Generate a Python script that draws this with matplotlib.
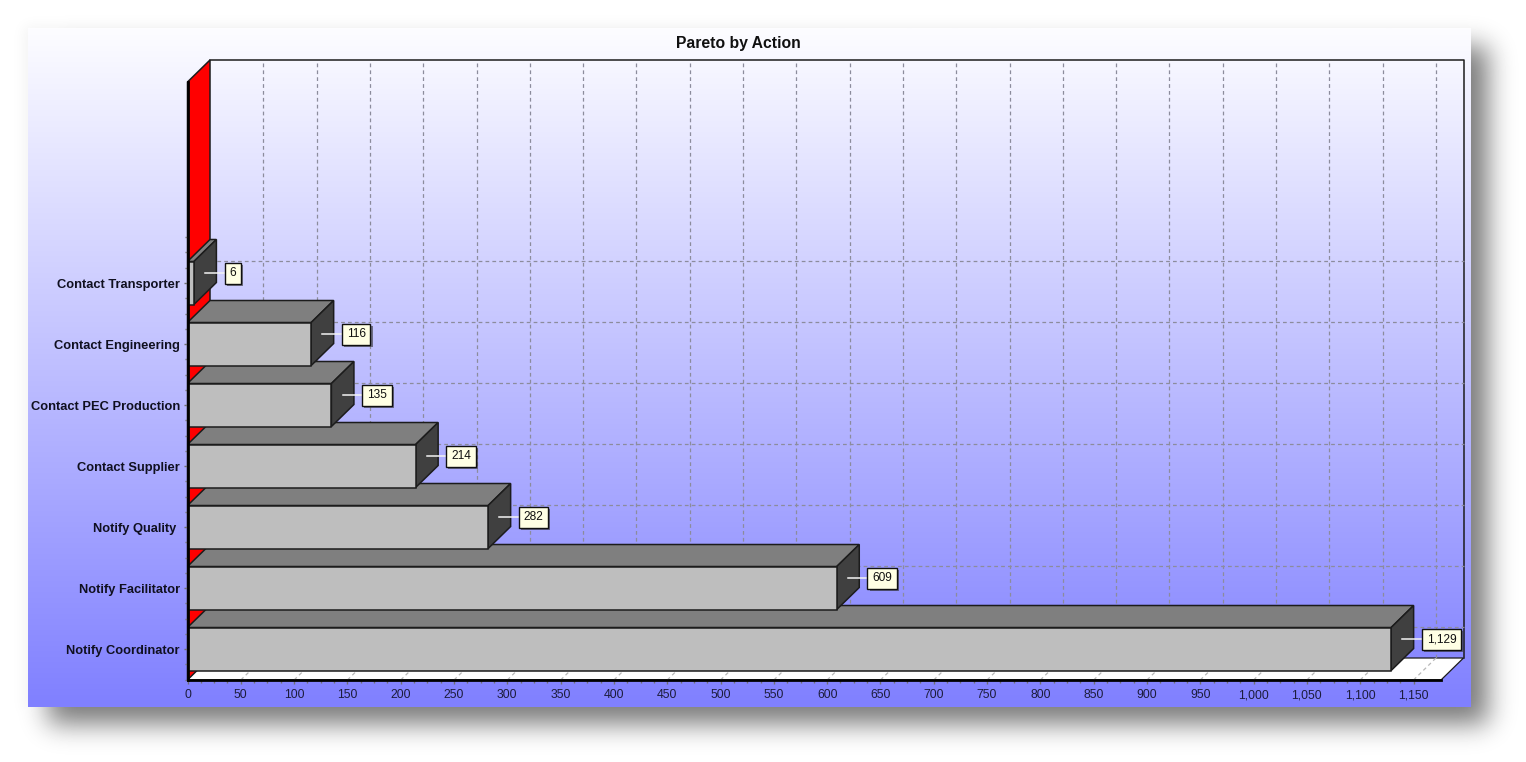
import numpy as np
import matplotlib
matplotlib.use("Agg")
import matplotlib.pyplot as plt
import matplotlib.patheffects as pe
from matplotlib.patches import Polygon
from matplotlib.transforms import offset_copy

plt.rcParams['font.family'] = ['Liberation Sans', 'DejaVu Sans']

actions = ["Notify Coordinator", "Notify Facilitator", "Notify Quality ", "Contact Supplier",
           "Contact PEC Production", "Contact Engineering", "Contact Transporter"]
counts = [1129, 609, 282, 214, 135, 116, 6]
x_ticks = list(range(0, 1151, 50))

W, H = 1526, 762
fig = plt.figure(figsize=(W / 100, H / 100), dpi=100, facecolor='white')


def soft_edge(n, a, b, sigma):
    t = np.arange(-3 * sigma, 3 * sigma + 1)
    k = np.exp(-t ** 2 / (2.0 * sigma ** 2))
    r = np.zeros(n)
    r[a:b] = 1
    return np.convolve(r, k / k.sum(), mode='same')


# page background: drop shadow then the gradient panel
bg = fig.add_axes([0, 0, 1, 1])
bg.set_xlim(0, W)
bg.set_ylim(H, 0)
bg.axis('off')
shadow = 0.52 * np.outer(soft_edge(H, 46, 724, 13), soft_edge(W, 48, 1488, 13))
halo = 0.05 * np.outer(soft_edge(H, 26, 712, 7), soft_edge(W, 24, 1478, 7))
shade = 1 - np.maximum(shadow, halo)
bg.imshow(shade, cmap='gray', vmin=0, vmax=1, extent=(0, W, H, 0), aspect='auto', zorder=0)
grad = np.linspace(0, 1, 256)[:, None, None] * np.array([-125, -125, 0]) / 255 + np.array([253, 253, 255]) / 255
bg.imshow(grad, extent=(28, 1471, 707, 28), aspect='auto', zorder=1)
bg.set_xlim(0, W)
bg.set_ylim(H, 0)

fig.text(738 / W, 1 - 43.5 / H, "Pareto by Action", fontsize=11.3, fontweight='bold', ha='center', va='center',
         color='#101010')

# front plane of the 3d box
L, R, T, B = 187.5, 1441, 82, 680
ax = fig.add_axes([L / W, 1 - B / H, (R - L) / W, (B - T) / H])
ax.patch.set_alpha(0)
ax.set_xlim(0, (R - L) / 1.0661)
ax.set_ylim(-0.508, 9.295)
for s in ax.spines.values():
    s.set_visible(False)

xmax = ax.get_xlim()[1]
ylo, yhi = ax.get_ylim()
depth_x = 22.5 / 1.0661
depth_y = 22.0 / 61
bar_half = 21.5 / 61
edge = '#1c1c1c'
grid_ls = (0, (3, 2.5))

# back wall, side wall, floor
ax.add_patch(Polygon([(0, ylo), (depth_x, ylo + depth_y), (depth_x, yhi + depth_y), (0, yhi)],
                     fc='#ff0000', ec=edge, lw=1.1, zorder=1, clip_on=False))
ax.add_patch(Polygon([(0, ylo), (xmax, ylo), (xmax + depth_x, ylo + depth_y), (depth_x, ylo + depth_y)],
                     fc='white', ec=edge, lw=0.9, zorder=1, clip_on=False))
ax.plot([depth_x, xmax + depth_x, xmax + depth_x], [yhi + depth_y, yhi + depth_y, ylo + depth_y],
        color=edge, lw=1.1, zorder=1, clip_on=False)

for v in x_ticks[1:]:
    ax.plot([v + depth_x] * 2, [ylo + depth_y, yhi + depth_y], color='#8c8c9c', lw=0.9, ls=grid_ls,
            zorder=1.5, clip_on=False)
    ax.plot([v, v + depth_x], [ylo, ylo + depth_y], color='#b8b8b8', lw=0.9, ls=grid_ls, zorder=1.5,
            clip_on=False)
for i in range(len(actions)):
    ax.plot([depth_x, xmax + depth_x], [i + depth_y] * 2, color='#8c8c9c', lw=0.9, ls=grid_ls, zorder=1.5,
            clip_on=False)

# bars, front one first so the ones above overlap its top face
for i, v in enumerate(counts):
    lo, hi = i - bar_half, i + bar_half
    z = 2 + i * 0.1
    ax.add_patch(Polygon([(0, hi), (depth_x, hi + depth_y), (v + depth_x, hi + depth_y), (v, hi)],
                         fc='#7f7f7f', ec=edge, lw=1.1, zorder=z, clip_on=False))
    ax.add_patch(Polygon([(v, lo), (v + depth_x, lo + depth_y), (v + depth_x, hi + depth_y), (v, hi)],
                         fc='#404040', ec=edge, lw=1.1, zorder=z, clip_on=False))
    ax.add_patch(Polygon([(0, lo), (v, lo), (v, hi), (0, hi)], fc='#bebebe', ec=edge, lw=1.1, zorder=z,
                         clip_on=False))
    # value callout
    ax.plot([v + 10.5, v + 29], [i + 0.17] * 2, color='#f4f4f4', lw=1.1, zorder=z + 0.01, clip_on=False)
    tr = offset_copy(ax.transData, fig=fig, x=35.5, y=-0.5, units='dots')
    t = ax.text(v, i + 0.165, f"{v:,}", transform=tr, ha='left', va='center', fontsize=8.6, color='#101010',
                zorder=8, clip_on=False,
                bbox=dict(boxstyle='square,pad=0.4', fc='#ffffe4', ec='#101010', lw=1))
    t.get_bbox_patch().set_path_effects([pe.SimplePatchShadow(offset=(1.5, -1.5), alpha=0.6, shadow_rgbFace='#333333'),
                                          pe.Normal()])

# axis lines and ticks
ax.plot([0, 0], [ylo, yhi], color='black', lw=2, zorder=7, clip_on=False)
ax.plot([0, xmax], [ylo, ylo], color='black', lw=2, zorder=7, clip_on=False)

ax.set_xticks(x_ticks)
ax.set_xticklabels([f"{v:,}" for v in x_ticks], fontsize=8.8, color='#1c1c3c', va='baseline')
ax.set_xticks(np.arange(0, 1151, 12.5), minor=True)
ax.set_yticks(range(len(actions)))
ax.set_yticklabels(actions, fontsize=9.3, fontweight='bold', color='#101020')
ax.set_yticks(np.arange(-0.5, 6.8, 0.25), minor=True)
ax.tick_params(axis='x', which='major', length=3, width=1, color='#707070', pad=10)
ax.tick_params(axis='x', which='minor', length=2, width=1, color='#707070')
ax.tick_params(axis='y', which='major', length=3, width=1, color='#707070', pad=2.5)
ax.tick_params(axis='y', which='minor', length=2, width=1, color='#707070')

fig.savefig("out.png", dpi=100)
